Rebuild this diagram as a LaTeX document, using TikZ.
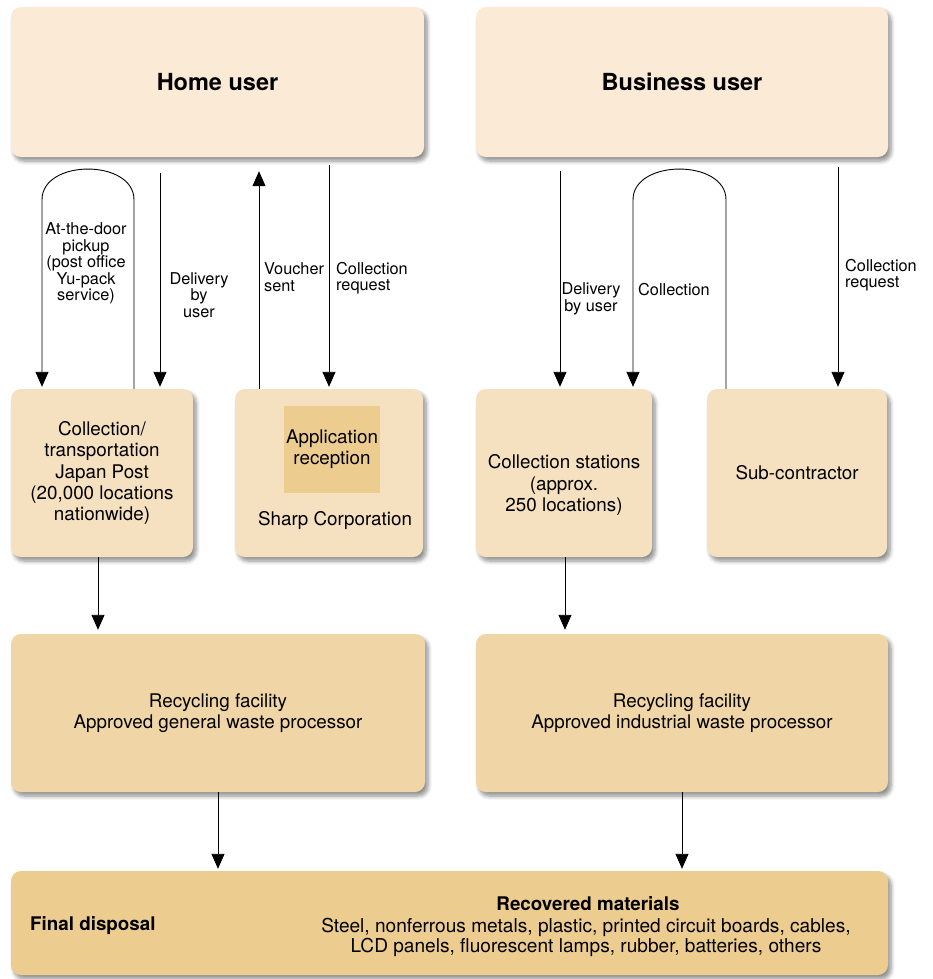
\documentclass[tikz,border=0pt]{standalone}
\usepackage{fontspec}
\setmainfont{TeX Gyre Heros}
\usetikzlibrary{arrows.meta,calc,positioning,shadows.blur}

\definecolor{userfill}{RGB}{250,234,214}
\definecolor{stepfill}{RGB}{245,224,192}
\definecolor{recfill}{RGB}{240,214,166}
\definecolor{endfill}{RGB}{236,204,143}

\tikzset{
  box/.style={rectangle, rounded corners=10pt, inner sep=0pt, align=center,
    blur shadow={shadow xshift=3pt, shadow yshift=-4pt, shadow blur radius=4pt,
      shadow blur steps=6, shadow opacity=45}},
  userbox/.style={box, fill=userfill, minimum height=150pt,
    font=\fontsize{23.5}{26}\selectfont\bfseries},
  midbox/.style={box, fill=stepfill, minimum height=168pt, font=\boxfont},
  recbox/.style={box, fill=recfill, minimum height=158pt, font=\boxfont},
  boxtxt/.style={inner sep=0pt, align=center, font=\boxfont},
  lbl/.style={inner sep=0pt, font=\fontsize{16.3}{16.5}\selectfont},
  arr/.style={line width=0.9pt, -{Triangle[width=13pt,length=15pt]}},
}
\newcommand{\boxfont}{\fontsize{18.8}{21.3}\selectfont}

\begin{document}
\begin{tikzpicture}[x=1pt,y=-1pt]
    \useasboundingbox (0,0) rectangle (932,979);
    % users
    \node[userbox, minimum width=413pt] (home) at (217.5,82) {Home user};
    \node[userbox, minimum width=412pt] (business) at (682,82) {Business user};
    % collection points
    \node[midbox, minimum width=182pt] (japanpost) at (102,473)
      {Collection/\\transportation\\Japan Post\\(20,000 locations\\nationwide)};
    \node[midbox, minimum width=188pt] (sharp) at (329,473) {};
    \node[fill=endfill, inner sep=0pt, minimum width=96pt, minimum height=87pt,
      align=center, font=\boxfont] (appl) at (332,449.5) {Application\\reception};
    \node[boxtxt] (sharptxt) at (335,521) {Sharp Corporation};
    \node[midbox, minimum width=176pt] (stations) at (564,473) {};
    \node[boxtxt] (stationstxt) at (564,485) {Collection stations\\(approx.\\250 locations)};
    \node[midbox, minimum width=180pt] (subcon) at (797,473) {Sub-contractor};
    % recycling
    \node[recbox, minimum width=414pt] (recgen) at (218,713)
      {Recycling facility\\Approved general waste processor};
    \node[recbox, minimum width=412pt] (recind) at (682,713)
      {Recycling facility\\Approved industrial waste processor};
    % end of the chain
    \node[box, fill=endfill, minimum width=877pt, minimum height=104pt] (final) at (449.5,923) {};
    \node[boxtxt, anchor=west, font=\boxfont\bfseries] (disposal) at (30,926) {Final disposal};
    \node[boxtxt, font=\boxfont\bfseries] (recovered) at (588,904) {Recovered materials};
    \node[boxtxt, font=\fontsize{19.1}{20}\selectfont] (materials) at (586,937)
      {Steel, nonferrous metals, plastic, printed circuit boards, cables,\\
       LCD panels, fluorescent lamps, rubber, batteries, others};

    % columns of the connectors
    \coordinate (pl) at (42,0);
    \coordinate (pr) at (134,0);
    \coordinate (dlv) at (160,0);
    \coordinate (vch) at (259,0);
    \coordinate (req) at (329,0);
    \coordinate (bdlv) at (560,0);
    \coordinate (cl) at (633,0);
    \coordinate (cr) at (726,0);
    \coordinate (breq) at (838,0);
    \coordinate (jp) at (98,0);
    \coordinate (st) at (565,0);

    % home user side
    \draw[arr, shorten >=2pt] (japanpost.north -| pr) -- ++(0,-189)
      .. controls +(0,-41) and +(0,-41) .. ++(-92,0) -- (japanpost.north -| pl);
    \draw[arr, shorten >=2pt] ($(home.south -| dlv)+(0,16)$) -- (japanpost.north -| dlv);
    \draw[arr] (sharp.north -| vch) -- ($(home.south -| vch)+(0,14)$);
    \draw[arr, shorten >=2pt] ($(home.south -| req)+(0,8)$) -- (sharp.north -| req);
    \node[lbl, align=center] (doorlbl) at (86,263.5)
      {At-the-door\\pickup\\(post office\\Yu-pack\\service)};
    \node[lbl, align=center] (dlvlbl) at (199,295) {Delivery\\by\\user};
    \node[lbl, align=left, anchor=west] (vchlbl) at (264,277) {Voucher\\sent};
    \node[lbl, align=left, anchor=west] (reqlbl) at (336,278) {Collection\\request};

    % business user side
    \draw[arr, shorten >=2pt] ($(business.south -| bdlv)+(0,14)$) -- (stations.north -| bdlv);
    \draw[arr, shorten >=2pt] (subcon.north -| cr) -- ++(0,-189)
      .. controls +(0,-41) and +(0,-41) .. ++(-93,0) -- (stations.north -| cl);
    \draw[arr, shorten >=2pt] ($(business.south -| breq)+(0,10)$) -- (subcon.north -| breq);
    \node[lbl, align=center] (bdlvlbl) at (591,299) {Delivery\\by user};
    \node[lbl, anchor=west] (cllbl) at (638,290) {Collection};
    \node[lbl, align=left, anchor=west] (breqlbl) at (845,275) {Collection\\request};

    % to recycling and disposal
    \draw[arr, shorten >=4pt] (japanpost.south -| jp) -- (recgen.north -| jp);
    \draw[arr, shorten >=4pt] (stations.south -| st) -- (recind.north -| st);
    \draw[arr, shorten >=2pt] (recgen.south) -- (final.north -| recgen.south);
    \draw[arr, shorten >=2pt] (recind.south) -- (final.north -| recind.south);
\end{tikzpicture}
\end{document}
